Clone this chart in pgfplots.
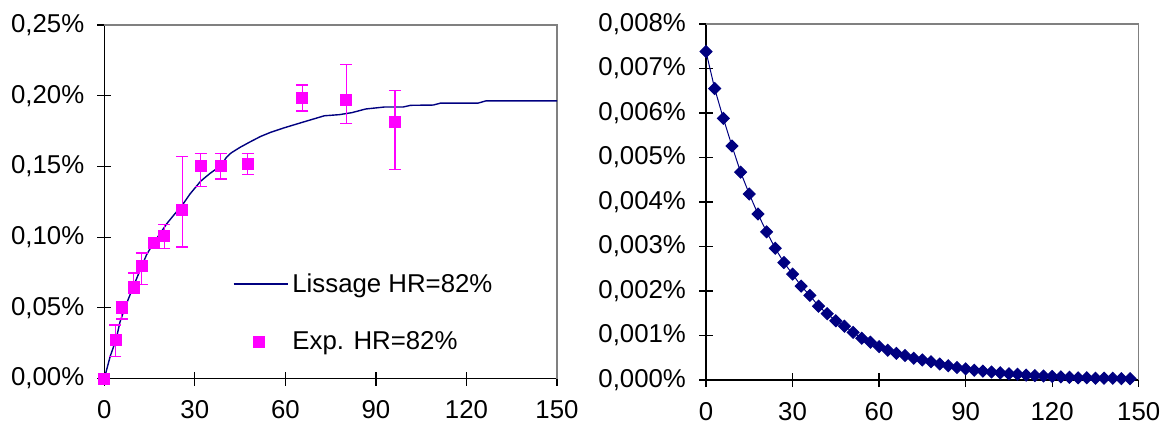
\documentclass[border=0pt]{standalone}
\usepackage{pgfplots}
\pgfplotsset{compat=1.18}
\usepackage{fontspec}
\setmainfont{Liberation Sans}
\definecolor{mag}{RGB}{255,0,255}
\definecolor{nav}{RGB}{0,0,128}
\definecolor{frame}{RGB}{128,128,128}

\pgfplotsset{
  lineleg/.style={legend image code/.code={\draw[##1] (0pt,0pt) -- (27pt,0pt);}},
  markleg/.style={legend image code/.code={\path[draw=none, fill=none] (0pt,0pt) -- (27pt,0pt); \path[mark repeat=1,##1, only marks, draw=none] plot coordinates {(12.7pt,0pt)};}},
}

\pgfplotstableread{
x y
0 0
2 0.016
3.9 0.0275
5.2 0.040
7 0.051
9.6 0.0649
12.4 0.0794
14 0.0875
16.2 0.0955
18 0.101
20.7 0.1095
23 0.1155
25.8 0.1225
28.4 0.1305
31.9 0.1395
35 0.1450
38.6 0.1505
40.5 0.1565
42 0.1595
45 0.1635
48 0.1670
51.8 0.1712
55 0.1740
59.3 0.1771
65.5 0.1811
72.9 0.1858
77.9 0.1866
82 0.1880
86.6 0.1906
92.8 0.1920
99.0 0.1920
101.5 0.1932
109 0.1934
111.5 0.1948
123.9 0.1948
126.4 0.1963
150 0.1963
}\lissage

\pgfplotstableread{
x y ep em
0 0 0 0
3.7 0.0272 0.0107 0.0118
5.7 0.0497 0.0048 0.0076
9.8 0.0651 0.0095 0.0047
12.4 0.0795 0.0093 0.0132
16.5 0.0959 0.0015 0.0015
19.9 0.1006 0.0081 0.0087
25.8 0.1191 0.0379 0.0261
31.9 0.1503 0.0090 0.0146
38.6 0.1503 0.0090 0.0092
47.5 0.1515 0.0078 0.0073
65.6 0.1982 0.0094 0.0090
80.2 0.1970 0.0248 0.0164
96.3 0.1813 0.0223 0.0333
}\experim

\pgfplotstableread{
x y
0 0.00738
3 0.00655
6 0.00588
9 0.00526
12 0.00467
15 0.00418
18 0.00373
21 0.00333
24 0.00296
27 0.00264
30 0.00238
33 0.00211
36 0.00190
39 0.00166
42 0.00149
45 0.00133
48 0.00121
51 0.00107
54 0.00094
57 0.00085
60 0.00075
63 0.00067
66 0.00060
69 0.00055
72 0.00049
75 0.00045
78 0.00041
81 0.00036
84 0.00032
87 0.00028
90 0.00025
93 0.00022
96 0.00020
99 0.00018
102 0.00016
105 0.00014
108 0.00013
111 0.00011
114 0.00010
117 0.00009
120 0.00008
123 0.00007
126 0.00006
129 0.00005
132 0.00005
135 0.00004
138 0.00004
141 0.00004
144 0.00003
147 0.00003
}\rate

\begin{document}
\begin{tikzpicture}
\path[use as bounding box] (0pt,0pt) rectangle (583.5pt,-214pt);
\pgfplotsset{
  base/.style={
    scale only axis, clip=false, anchor=south west,
    axis lines*=left,
    axis line style={black, line width=0.6pt},
    tick align=center, major tick length=7pt,
    tick style={black, line width=0.6pt},
    xmin=0, xmax=150,
    xtick={0,30,60,90,120,150},
    xticklabels={0,30,60,90,120,150},
    tick label style={font=\fontsize{12.9}{15}\selectfont},
    xticklabel style={yshift=-4pt},
    yticklabel style={xshift=-3pt},
    scaled y ticks=false,
  }
}
\begin{axis}[base,
  at={(52.15pt,-189.25pt)}, width=226.35pt, height=176.75pt,
  ymin=0, ymax=0.25,
  ytick={0,0.05,0.1,0.15,0.2,0.25},
  yticklabels={{0,00\%},{0,05\%},{0,10\%},{0,15\%},{0,20\%},{0,25\%}},
  legend style={draw=none, fill=none, at={(rel axis cs:0.2834,0.31)}, anchor=north west,
    inner sep=0pt, row sep=14pt,
    nodes={inner sep=2pt, font=\fontsize{12.9}{15}\selectfont}},
  legend cell align=left,
]
\draw[frame, line width=0.6pt] (rel axis cs:0,1) -- (rel axis cs:1,1) -- (rel axis cs:1,0);
\addplot[nav, line width=0.7pt, lineleg]
  table[x=x, y=y] {\lissage};
\addlegendentry{Lissage HR=82\%}
\addplot[only marks, mark=square*, mag, mark size=2.75pt, markleg,
  error bars/.cd, y dir=both, y explicit,
  error bar style={mag, line width=0.6pt},
  error mark=-,
  error mark options={mag, mark size=3pt, line width=0.6pt, rotate=90}]
  table[x=x, y=y, y error plus=ep, y error minus=em] {\experim};
\addlegendentry{Exp. HR=82\%}
\end{axis}

\begin{axis}[base,
  at={(353pt,-190pt)}, width=216.35pt, height=178pt,
  ymin=0, ymax=0.008,
  ytick={0,0.001,0.002,0.003,0.004,0.005,0.006,0.007,0.008},
  yticklabels={{0,000\%},{0,001\%},{0,002\%},{0,003\%},{0,004\%},{0,005\%},{0,006\%},{0,007\%},{0,008\%}},
]
\draw[frame, line width=0.6pt] (rel axis cs:0,1) -- (rel axis cs:1,1) -- (rel axis cs:1,0);
\addplot[nav, line width=0.5pt, mark=square*, mark size=2.1pt, mark options={rotate=45, solid}]
  table[x=x, y=y] {\rate};
\end{axis}
\end{tikzpicture}
\end{document}
